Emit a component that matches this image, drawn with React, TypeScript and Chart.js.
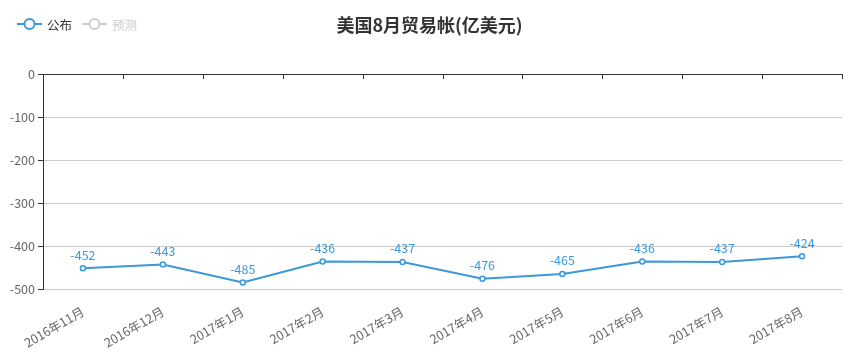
import React, { useEffect, useRef } from 'react';
import { Chart, registerables } from 'chart.js';

Chart.register(...registerables);

const categories = [
  '2016年11月', '2016年12月', '2017年1月', '2017年2月', '2017年3月',
  '2017年4月', '2017年5月', '2017年6月', '2017年7月', '2017年8月',
];
const publishedValues = [-452, -443, -485, -436, -437, -476, -465, -436, -437, -424];
const forecastValues: (number | null)[] = [];
const yMin = -500;
const yMax = 0;
const yStep = 100;
const titleText = '美国8月贸易帐(亿美元)';
const seriesNames = ['公布', '预测'];

const BLUE = '#3a98db';
const FONT = '"Noto Sans CJK SC", "Noto Sans", sans-serif';

const decorPlugin = {
  id: 'decor',
  afterDatasetsDraw(chart: any) {
    const ctx = chart.ctx;
    const meta = chart.getDatasetMeta(0);
    ctx.save();
    ctx.font = `12.5px ${FONT}`;
    ctx.fillStyle = BLUE;
    ctx.textAlign = 'center';
    ctx.textBaseline = 'bottom';
    meta.data.forEach((el: any, i: number) => {
      ctx.fillText(String(publishedValues[i]), el.x, el.y - 7);
    });
    ctx.restore();
  },
  afterDraw(chart: any) {
    const ctx = chart.ctx;
    const xs = chart.scales.x;
    const ys = chart.scales.y;
    const y0 = ys.getPixelForValue(0);
    const half = (xs.getPixelForValue(1) - xs.getPixelForValue(0)) / 2;
    ctx.save();
    // top category axis
    ctx.strokeStyle = '#333';
    ctx.lineWidth = 1;
    ctx.beginPath();
    ctx.moveTo(chart.chartArea.left, Math.round(y0) + 0.5);
    ctx.lineTo(chart.chartArea.right, Math.round(y0) + 0.5);
    for (let i = 0; i <= categories.length; i++) {
      const x = Math.round(xs.getPixelForValue(i) - half) + 0.5;
      ctx.moveTo(x, Math.round(y0));
      ctx.lineTo(x, Math.round(y0) + 5);
    }
    ctx.stroke();

    // title
    ctx.font = `bold 18px ${FONT}`;
    ctx.fillStyle = '#333';
    ctx.textAlign = 'center';
    ctx.textBaseline = 'middle';
    ctx.fillText(titleText, chart.width / 2, 25);

    // legend
    const colors = [BLUE, '#ccc'];
    const textColors = ['#333', '#ccc'];
    let lx = 17;
    const ly = 24;
    ctx.font = `12.5px ${FONT}`;
    ctx.textAlign = 'left';
    seriesNames.forEach((name, i) => {
      ctx.strokeStyle = colors[i];
      ctx.lineWidth = 2;
      ctx.beginPath();
      ctx.moveTo(lx, ly);
      ctx.lineTo(lx + 25, ly);
      ctx.stroke();
      ctx.beginPath();
      ctx.arc(lx + 12.5, ly, 5, 0, Math.PI * 2);
      ctx.fillStyle = '#fff';
      ctx.fill();
      ctx.stroke();
      ctx.fillStyle = textColors[i];
      ctx.fillText(name, lx + 30, ly + 1);
      lx += 30 + ctx.measureText(name).width + 10;
    });
    ctx.restore();
  },
};

export default function App() {
  const ref = useRef<HTMLCanvasElement>(null);
  useEffect(() => {
    if (!ref.current) return;
    const chart = new Chart(ref.current, {
      type: 'line',
      data: {
        labels: categories,
        datasets: [
          {
            label: seriesNames[0],
            data: publishedValues,
            borderColor: BLUE,
            backgroundColor: BLUE,
            borderWidth: 2,
            pointRadius: 2.5,
            pointBackgroundColor: '#fff',
            pointBorderColor: BLUE,
            pointBorderWidth: 1.5,
            tension: 0,
          },
          {
            label: seriesNames[1],
            data: forecastValues,
            borderColor: '#ccc',
            backgroundColor: '#ccc',
          },
        ],
      },
      options: {
        animation: false,
        responsive: true,
        maintainAspectRatio: false,
        layout: { padding: { top: 74, right: 17, left: 0, bottom: 0 } },
        plugins: {
          legend: { display: false },
          title: { display: false },
          tooltip: { enabled: false },
        },
        scales: {
          x: {
            type: 'category',
            position: 'bottom',
            offset: true,
            grid: { display: false },
            border: { display: false },
            ticks: {
              minRotation: 30,
              maxRotation: 30,
              autoSkip: false,
              color: '#666',
              padding: 7,
              font: { family: FONT, size: 12.5 },
            },
            afterFit(scale: any) {
              scale.height = 65;
            },
          },
          y: {
            min: yMin,
            max: yMax,
            ticks: {
              stepSize: yStep,
              color: '#666',
              padding: 3,
              font: { family: FONT, size: 12.5 },
            },
            grid: {
              color: (c: any) => (c.tick && c.tick.value === 0 ? '#333' : '#ccc'),
              tickColor: '#333',
              tickLength: 5,
            },
            border: { color: '#333', width: 1 },
            afterFit(scale: any) {
              scale.width = 43;
            },
          },
        },
      },
      plugins: [decorPlugin],
    });
    return () => chart.destroy();
  }, []);
  return (
    <div style={{ position: 'fixed', left: 0, top: 0, width: 859, height: 354, background: '#fff' }}>
      <canvas ref={ref} />
    </div>
  );
}
